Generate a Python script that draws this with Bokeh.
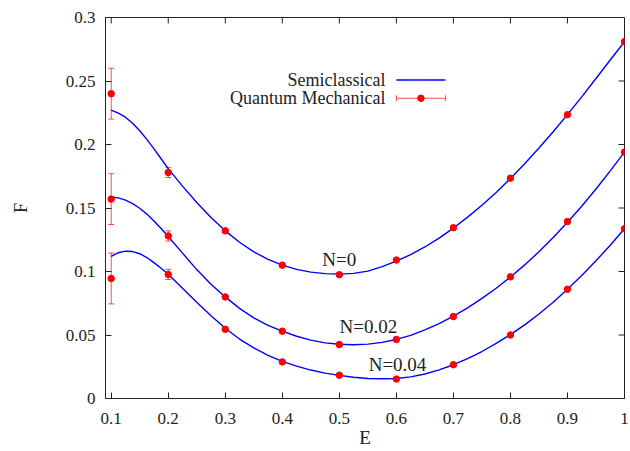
import math

from bokeh.plotting import figure
from bokeh.models import (ColumnDataSource, Whisker, TeeHead, FixedTicker,
                          Range1d, Label)
from bokeh.embed import file_html
from bokeh.resources import INLINE

# Quantum mechanical results (points with error bars)
E_POINTS = [0.1, 0.2, 0.3, 0.4, 0.5, 0.6, 0.7, 0.8, 0.9, 1.0]
QM_N0 = [0.240, 0.178, 0.132, 0.105, 0.0975, 0.109, 0.1345, 0.1735, 0.2235, 0.281]
QM_N002 = [0.157, 0.128, 0.080, 0.053, 0.0425, 0.0465, 0.0645, 0.0958, 0.1393, 0.194]
QM_N004 = [0.0945, 0.0977, 0.0545, 0.0288, 0.0183, 0.0153, 0.0266, 0.050, 0.086, 0.1337]
QM_ERR = [0.02, 0.004, 0, 0, 0, 0, 0, 0, 0, 0]

# Semiclassical curves
E_CURVE = [0.1, 0.1125, 0.125, 0.1375, 0.15, 0.1625, 0.175, 0.1875, 0.2,
           0.225, 0.25, 0.275, 0.3, 0.325, 0.35, 0.375, 0.4, 0.425, 0.45, 0.475,
           0.5, 0.525, 0.55, 0.575, 0.6, 0.625, 0.65, 0.675, 0.7, 0.725, 0.75,
           0.775, 0.8, 0.825, 0.85, 0.875, 0.9, 0.925, 0.95, 0.975, 1.0]
SC_N0 = [0.2270, 0.2247, 0.2215, 0.2168, 0.2108, 0.2040, 0.1965, 0.1888, 0.1810,
         0.1672, 0.1543, 0.1425, 0.1320, 0.1230, 0.1155, 0.1095, 0.1050, 0.1017,
         0.0995, 0.0983, 0.0979, 0.0985, 0.1003, 0.1038, 0.1082, 0.1133, 0.1193,
         0.1263, 0.1342, 0.1428, 0.1522, 0.1622, 0.1732, 0.1848, 0.1972, 0.2100,
         0.2235, 0.2375, 0.2520, 0.2665, 0.2810]
SC_N002 = [0.1587, 0.1580, 0.1562, 0.1535, 0.1498, 0.1452, 0.1398, 0.1338, 0.1275,
           0.1145, 0.1015, 0.0900, 0.0800, 0.0710, 0.0635, 0.0575, 0.0530, 0.0490,
           0.0460, 0.0438, 0.0427, 0.0423, 0.0428, 0.0442, 0.0465, 0.0497, 0.0540,
           0.0590, 0.0648, 0.0714, 0.0788, 0.0868, 0.0956, 0.1052, 0.1155, 0.1267,
           0.1388, 0.1514, 0.1650, 0.1792, 0.1940]
SC_N004 = [0.1120, 0.1148, 0.1160, 0.1157, 0.1140, 0.1110, 0.1070, 0.1025, 0.0978,
           0.0868, 0.0758, 0.0652, 0.0553, 0.0468, 0.0398, 0.0340, 0.0293, 0.0255,
           0.0224, 0.0200, 0.0182, 0.0167, 0.0158, 0.0155, 0.0158, 0.0170, 0.0193,
           0.0225, 0.0266, 0.0314, 0.0370, 0.0434, 0.0503, 0.0580, 0.0665, 0.0758,
           0.0860, 0.0968, 0.1084, 0.1207, 0.1337]

X_TICKS = [0.1, 0.2, 0.3, 0.4, 0.5, 0.6, 0.7, 0.8, 0.9, 1.0]
X_TICK_LABELS = ["0.1", "0.2", "0.3", "0.4", "0.5", "0.6", "0.7", "0.8", "0.9", "1"]
Y_TICKS = [0, 0.05, 0.1, 0.15, 0.2, 0.25, 0.3]
Y_TICK_LABELS = ["0", "0.05", "0.1", "0.15", "0.2", "0.25", "0.3"]

CURVE_LABELS = ["N=0", "N=0.02", "N=0.04"]
CURVE_LABEL_POS = [(0.50, 0.1095), (0.551, 0.0565), (0.602, 0.0265)]

FONT = "Liberation Serif"
BLUE = "#0000ff"
RED = "#ff0000"
FRAME = "#222222"
TICK_LEN = 6

p = figure(width=630, height=451, output_backend="svg", toolbar_location=None,
           x_range=Range1d(0.09, 1.0), y_range=Range1d(0, 0.3),
           min_border_left=105, min_border_right=6, min_border_top=17,
           min_border_bottom=53, background_fill_color="white",
           border_fill_color="white")
p.xgrid.visible = False
p.ygrid.visible = False
p.outline_line_color = FRAME
p.outline_line_width = 1

for ax, ticks, labels in ((p.xaxis[0], X_TICKS, X_TICK_LABELS),
                          (p.yaxis[0], Y_TICKS, Y_TICK_LABELS)):
    ax.ticker = FixedTicker(ticks=ticks)
    ax.major_label_overrides = {t: l for t, l in zip(ticks, labels)}
    ax.minor_tick_line_color = None
    ax.major_tick_in = TICK_LEN
    ax.major_tick_out = 0
    ax.major_tick_line_color = FRAME
    ax.axis_line_color = FRAME
    ax.major_label_text_font = FONT
    ax.major_label_text_font_size = "17px"
    ax.major_label_text_color = "#222222"
    ax.axis_label_text_font = FONT
    ax.axis_label_text_font_style = "normal"
    ax.axis_label_text_font_size = "19px"
    ax.axis_label_text_color = "#222222"
p.xaxis[0].axis_label = "E"
p.yaxis[0].axis_label = "F"
p.xaxis[0].major_label_standoff = 14
p.yaxis[0].major_label_standoff = 10
p.xaxis[0].axis_label_standoff = 0
p.yaxis[0].axis_label_standoff = 32

# mirrored inward ticks on the top and right borders
p.ray(x=X_TICKS, y=[p.y_range.end] * len(X_TICKS), length=TICK_LEN,
      length_units="screen", angle=-math.pi / 2, line_color=FRAME, line_width=1)
p.ray(x=[p.x_range.end] * len(Y_TICKS), y=Y_TICKS, length=TICK_LEN,
      length_units="screen", angle=math.pi, line_color=FRAME, line_width=1)

# semiclassical curves
for series in (SC_N0, SC_N002, SC_N004):
    p.line(E_CURVE, series, line_color=BLUE, line_width=1.4)

# quantum mechanical points with error bars
for series in (QM_N0, QM_N002, QM_N004):
    rows = [(e, v, d) for e, v, d in zip(E_POINTS, series, QM_ERR) if d > 0]
    err_src = ColumnDataSource(data=dict(
        x=[r[0] for r in rows],
        lower=[r[1] - r[2] for r in rows],
        upper=[r[1] + r[2] for r in rows]))
    p.add_layout(Whisker(source=err_src, base="x", lower="lower", upper="upper",
                         line_color=RED, line_alpha=0.7, line_width=1,
                         lower_head=TeeHead(size=6, line_color=RED, line_alpha=0.7),
                         upper_head=TeeHead(size=6, line_color=RED, line_alpha=0.7)))
    p.scatter(E_POINTS, series, size=6.5, fill_color=RED, line_color=RED)

# curve labels
for text, (lx, ly) in zip(CURVE_LABELS, CURVE_LABEL_POS):
    p.add_layout(Label(x=lx, y=ly, text=text, text_align="center",
                       text_baseline="alphabetic", text_font=FONT,
                       text_font_size="19px", text_color="#222222"))

# key: text on the left, sample on the right
KEY_TEXT_X = 0.581
KEY_SAMPLE_X0, KEY_SAMPLE_X1 = 0.600, 0.686
KEY_Y = [0.2508, 0.2364]
for text, ky in zip(["Semiclassical", "Quantum Mechanical"], KEY_Y):
    p.add_layout(Label(x=KEY_TEXT_X, y=ky, text=text, text_align="right",
                       text_baseline="middle", text_font=FONT,
                       text_font_size="18px", text_color="#222222"))
p.line([KEY_SAMPLE_X0, KEY_SAMPLE_X1], [KEY_Y[0], KEY_Y[0]],
       line_color=BLUE, line_width=1.4)
key_src = ColumnDataSource(data=dict(y=[KEY_Y[1]], lo=[KEY_SAMPLE_X0], hi=[KEY_SAMPLE_X1]))
p.add_layout(Whisker(source=key_src, base="y", lower="lo", upper="hi",
                     dimension="width", line_color=RED, line_alpha=0.7,
                     lower_head=TeeHead(size=6, line_color=RED, line_alpha=0.7),
                     upper_head=TeeHead(size=6, line_color=RED, line_alpha=0.7)))
p.scatter([(KEY_SAMPLE_X0 + KEY_SAMPLE_X1) / 2], [KEY_Y[1]], size=6.5,
          fill_color=RED, line_color=RED)

open("out.html", "w").write(file_html(p, INLINE))
